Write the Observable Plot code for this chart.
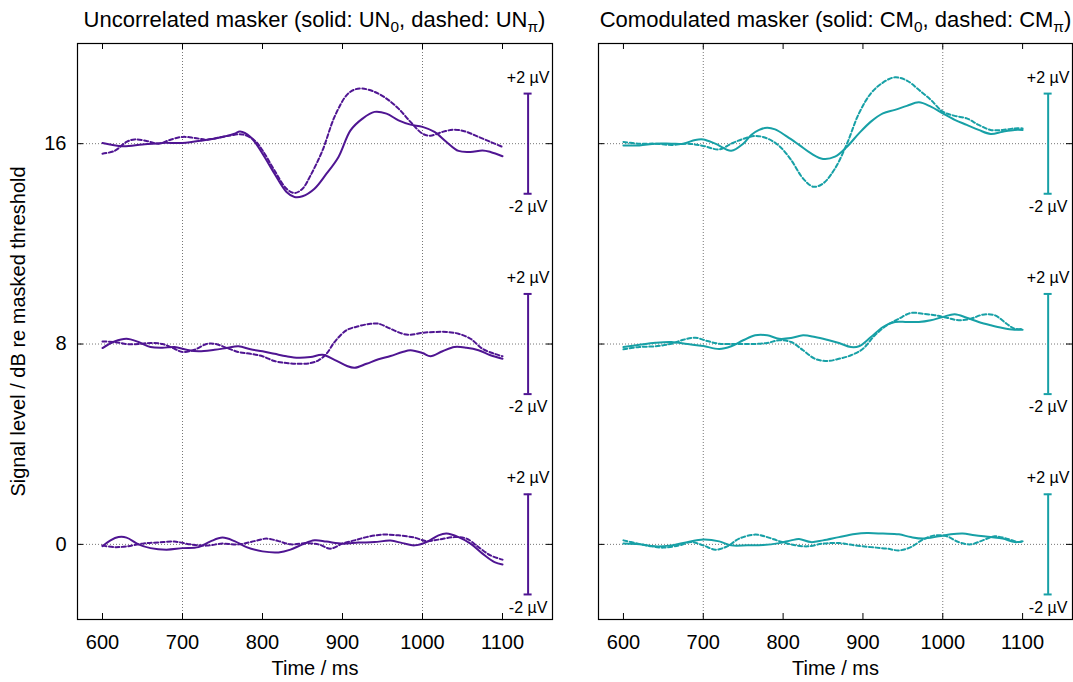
<!DOCTYPE html>
<html>
<head>
<meta charset="utf-8">
<script src="https://cdn.jsdelivr.net/npm/d3@7"></script>
<script src="https://cdn.jsdelivr.net/npm/@observablehq/plot@0.6"></script>
<style>
  html, body { margin: 0; padding: 0; background: #fff; }
  #root { position: relative; width: 1073px; height: 682px; overflow: hidden; font-family: "Liberation Sans", Arial, Helvetica, sans-serif; }
  .panel { position: absolute; top: 0; }
  .title { position: absolute; top: 8px; font-size: 22px; line-height: 24px; text-align: center; color: #000; white-space: nowrap; }
  .title sub { font-size: 70%; line-height: 0; vertical-align: -0.3em; }
</style>
</head>
<body>
<div id="root">
  <div class="title" style="left:77px;width:475px;">Uncorrelated masker (solid: UN<sub>0</sub>, dashed: UN<sub>π</sub>)</div>
  <div class="title" style="left:598px;width:475px;">Comodulated masker (solid: CM<sub>0</sub>, dashed: CM<sub>π</sub>)</div>
  <div class="panel" id="left" style="left:0px;"></div>
  <div class="panel" id="right" style="left:560px;"></div>
</div>
<script>
// ---- data: time (ms), amplitude (µV) relative to each signal level ----
const levels = [0, 8, 16];
const xTicks = [600, 700, 800, 900, 1000, 1100];
const gridX = [700, 1000];
const scaleBarX = 1132;   // ms
const scaleBarHalf = 2;   // µV
const colorUN = "#4f1592";
const colorCM = "#17a0a6";

// Uncorrelated, solid (UN0)
const un0_16 = [[600,0.03],[625,-0.1],[650,-0.03],[675,0.03],[700,0.03],[725,0.13],[750,0.27],[765,0.4],[772,0.49],[785,0.27],[800,-0.4],[815,-1.2],[830,-1.93],[840,-2.13],[850,-2.1],[865,-1.8],[880,-1.2],[895,-0.53],[910,0.53],[925,1.0],[940,1.27],[955,1.2],[970,0.93],[985,0.76],[1000,0.67],[1015,0.47],[1030,0.07],[1045,-0.29],[1060,-0.33],[1075,-0.27],[1085,-0.33],[1100,-0.5]];
const un0_8 = [[600,-0.16],[615,0.1],[630,0.21],[645,0.08],[660,-0.12],[675,-0.15],[690,-0.12],[705,-0.23],[720,-0.29],[740,-0.23],[755,-0.16],[770,-0.09],[785,-0.21],[800,-0.29],[815,-0.39],[830,-0.49],[845,-0.55],[860,-0.52],[875,-0.43],[890,-0.63],[905,-0.87],[915,-0.95],[930,-0.79],[945,-0.61],[960,-0.48],[975,-0.32],[985,-0.25],[1000,-0.36],[1010,-0.49],[1025,-0.29],[1040,-0.12],[1055,-0.15],[1070,-0.25],[1085,-0.45],[1100,-0.59]];
const un0_0 = [[600,-0.07],[610,0.16],[620,0.29],[630,0.27],[645,0],[660,-0.15],[680,-0.21],[700,-0.15],[720,-0.11],[735,0.12],[750,0.27],[765,0.13],[780,-0.11],[800,-0.28],[820,-0.32],[835,-0.21],[850,0],[865,0.16],[880,0.11],[900,0.03],[920,0.07],[940,0.09],[960,0.15],[975,0.05],[990,-0.04],[1005,0.09],[1020,0.36],[1030,0.43],[1045,0.29],[1060,0.03],[1075,-0.37],[1090,-0.71],[1100,-0.8]];
// Uncorrelated, dashed (UNπ)
const unpi_16 = [[600,-0.4],[615,-0.29],[630,0.07],[640,0.17],[655,0.11],[670,0],[685,0.16],[700,0.27],[715,0.23],[730,0.16],[745,0.24],[760,0.33],[775,0.37],[790,0.13],[800,-0.27],[815,-1.07],[830,-1.8],[840,-1.97],[850,-1.8],[860,-1.27],[875,-0.27],[890,1.07],[905,1.93],[915,2.16],[925,2.2],[940,2.07],[955,1.8],[970,1.4],[985,0.87],[1000,0.4],[1010,0.32],[1025,0.47],[1040,0.56],[1055,0.47],[1070,0.27],[1085,0.07],[1100,-0.13]];
const unpi_8 = [[600,0.1],[615,0.08],[630,0],[645,0],[660,0.04],[675,0],[690,-0.19],[700,-0.32],[715,-0.23],[730,0],[740,0.01],[755,-0.15],[770,-0.32],[785,-0.39],[800,-0.49],[815,-0.68],[830,-0.76],[845,-0.79],[860,-0.76],[870,-0.65],[880,-0.39],[890,0.08],[905,0.55],[920,0.71],[935,0.81],[945,0.81],[960,0.61],[975,0.41],[985,0.37],[1000,0.45],[1015,0.48],[1030,0.48],[1045,0.41],[1060,0.21],[1075,-0.19],[1090,-0.39],[1100,-0.49]];
const unpi_0 = [[600,-0.05],[615,-0.11],[630,-0.08],[650,0.03],[670,0.08],[690,0.11],[710,0],[730,-0.05],[750,0.03],[770,0],[790,0.13],[805,0.23],[820,0.13],[835,0],[855,0.05],[870,0],[885,-0.17],[900,0.03],[915,0.16],[930,0.29],[950,0.39],[970,0.36],[990,0.27],[1005,0.13],[1020,0.19],[1040,0.29],[1055,0.23],[1070,-0.11],[1085,-0.44],[1100,-0.61]];
// Comodulated, solid (CM0)
const cm0_16 = [[600,-0.07],[620,-0.07],[640,0],[660,0],[675,0],[690,0.15],[700,0.17],[715,0],[735,-0.28],[750,0],[760,0.35],[770,0.55],[780,0.64],[790,0.57],[805,0.28],[820,-0.05],[835,-0.39],[850,-0.61],[865,-0.52],[880,-0.12],[895,0.41],[910,0.88],[925,1.21],[940,1.35],[955,1.51],[970,1.65],[985,1.48],[1000,1.21],[1015,0.95],[1030,0.75],[1045,0.55],[1060,0.39],[1075,0.48],[1090,0.55],[1100,0.55]];
const cm0_8 = [[600,-0.12],[620,-0.03],[640,0.05],[660,0.08],[680,0],[700,-0.08],[720,-0.2],[735,-0.09],[750,0.15],[765,0.35],[780,0.35],[795,0.21],[810,0.24],[825,0.35],[840,0.28],[855,0.17],[870,0.04],[885,-0.12],[895,-0.09],[910,0.28],[925,0.68],[940,0.88],[955,0.88],[970,0.88],[985,0.95],[1000,1.08],[1015,1.19],[1030,1.05],[1045,0.88],[1060,0.75],[1075,0.64],[1090,0.57],[1100,0.57]];
const cm0_0 = [[600,0.03],[620,0],[640,-0.08],[660,-0.04],[680,0.09],[700,0.19],[720,0.12],[735,-0.04],[755,-0.04],[775,-0.03],[795,0.05],[810,0.16],[820,0.21],[835,0.09],[850,0.16],[870,0.29],[890,0.41],[905,0.45],[925,0.43],[945,0.4],[960,0.29],[975,0.23],[995,0.32],[1010,0.4],[1025,0.43],[1040,0.36],[1060,0.29],[1075,0.23],[1090,0.09],[1100,0.12]];
// Comodulated, dashed (CMπ)
const cmpi_16 = [[600,0.07],[620,0],[640,0],[660,-0.05],[680,0],[700,-0.09],[720,-0.23],[735,0],[750,0.19],[765,0.31],[780,0.21],[795,-0.09],[810,-0.65],[825,-1.39],[838,-1.72],[850,-1.59],[865,-0.99],[880,0],[895,1.21],[910,2.01],[925,2.44],[940,2.65],[955,2.52],[970,2.15],[985,1.75],[1000,1.28],[1015,1.11],[1030,1.01],[1045,0.75],[1060,0.55],[1075,0.55],[1090,0.61],[1100,0.61]];
const cmpi_8 = [[600,-0.21],[620,-0.12],[640,-0.09],[660,0.01],[675,0.17],[690,0.25],[705,0.12],[720,0.01],[740,0],[760,0],[780,0.04],[795,0.15],[810,0.08],[825,-0.25],[840,-0.59],[855,-0.68],[870,-0.59],[885,-0.45],[900,-0.19],[915,0.35],[930,0.75],[945,1.01],[960,1.24],[975,1.21],[990,1.15],[1005,1.05],[1020,0.95],[1035,1.01],[1050,1.17],[1065,1.15],[1080,0.81],[1090,0.61],[1100,0.6]];
const cmpi_0 = [[600,0.16],[615,0.05],[635,-0.08],[650,-0.13],[670,-0.04],[685,0.09],[700,-0.04],[715,-0.21],[730,-0.08],[745,0.23],[765,0.39],[780,0.29],[795,0.13],[810,0],[830,-0.08],[850,0.03],[870,0.05],[890,-0.04],[910,-0.11],[930,-0.17],[945,-0.24],[960,-0.11],[975,0.19],[990,0.36],[1005,0.32],[1020,0.09],[1035,0],[1050,0.16],[1065,0.32],[1080,0.23],[1095,0.09],[1100,0.13]];

function rows(series) {
  // series: list of [level, pairs]
  return series.flatMap(([level, pairs]) => pairs.map(([t, uv]) => ({t, v: level + uv, level})));
}

const FONT = '"Liberation Sans", Arial, Helvetica, sans-serif';
const X_DOMAIN = [568.75, 1162.5];
const Y_DOMAIN = [-3, 20];

function panel({solid, dashed, color, width, marginLeft, marginRight, showY}) {
  const height = 682, marginTop = 43, marginBottom = 63;
  const plotW = width - marginLeft - marginRight;
  const plotH = height - marginTop - marginBottom;
  const grid = {stroke: "#777", strokeWidth: 1, strokeDasharray: "1,2"};
  const caps = levels.flatMap(l => [l - scaleBarHalf, l + scaleBarHalf]);
  const marks = [
    Plot.ruleX(gridX, grid),
    Plot.ruleY(levels, grid),
    Plot.line(rows(solid), {x: "t", y: "v", z: "level", stroke: color, strokeWidth: 2, curve: "catmull-rom"}),
    Plot.line(rows(dashed), {x: "t", y: "v", z: "level", stroke: color, strokeWidth: 2, strokeDasharray: "4 2.5", curve: "catmull-rom"}),
    // scale bars (±2 µV)
    Plot.ruleX(levels, {x: () => scaleBarX, y1: d => d - scaleBarHalf, y2: d => d + scaleBarHalf, stroke: color, strokeWidth: 2}),
    Plot.ruleY(caps, {y: d => d, x1: () => scaleBarX - 5, x2: () => scaleBarX + 5, stroke: color, strokeWidth: 2}),
    Plot.text(levels, {x: () => scaleBarX, y: d => d + scaleBarHalf, text: () => "+2 µV", dy: -16, fontSize: 16, fill: "#000"}),
    Plot.text(levels, {x: () => scaleBarX, y: d => d - scaleBarHalf, text: () => "-2 µV", dy: 13, fontSize: 16, fill: "#000"}),
    // inward tick marks, mirrored
    Plot.ruleX(xTicks, {stroke: "#000", insetTop: plotH - 6}),
    Plot.ruleX(xTicks, {stroke: "#000", insetBottom: plotH - 6}),
    Plot.ruleY(levels, {stroke: "#000", insetRight: plotW - 6}),
    Plot.ruleY(levels, {stroke: "#000", insetLeft: plotW - 6}),
    Plot.frame({stroke: "#000", strokeWidth: 1.2}),
    Plot.axisX(xTicks, {anchor: "bottom", tickSize: 0, tickPadding: 15, tickFormat: d => String(d), fontSize: 20,
      label: "Time / ms", labelAnchor: "center", labelArrow: "none", labelOffset: 55})
  ];
  if (showY) {
    marks.push(Plot.axisY(levels, {anchor: "left", tickSize: 0, tickPadding: 11, tickFormat: d => String(d), fontSize: 20,
      label: "Signal level / dB re masked threshold", labelAnchor: "center", labelArrow: "none", labelOffset: 67}));
  } else {
    marks.push(Plot.axisY(levels, {anchor: "left", tickSize: 0, tickFormat: () => "", label: null}));
  }
  return Plot.plot({
    width, height, marginTop, marginBottom, marginLeft, marginRight,
    x: {domain: X_DOMAIN},
    y: {domain: Y_DOMAIN},
    style: {fontFamily: FONT, fontSize: "20px", color: "#000", background: "transparent"},
    marks
  });
}

document.getElementById("left").appendChild(panel({
  solid: [[0, un0_0], [8, un0_8], [16, un0_16]],
  dashed: [[0, unpi_0], [8, unpi_8], [16, unpi_16]],
  color: colorUN, width: 560, marginLeft: 77, marginRight: 8, showY: true
}));
document.getElementById("right").appendChild(panel({
  solid: [[0, cm0_0], [8, cm0_8], [16, cm0_16]],
  dashed: [[0, cmpi_0], [8, cmpi_8], [16, cmpi_16]],
  color: colorCM, width: 513, marginLeft: 38, marginRight: 1, showY: false
}));
</script>
</body>
</html>
